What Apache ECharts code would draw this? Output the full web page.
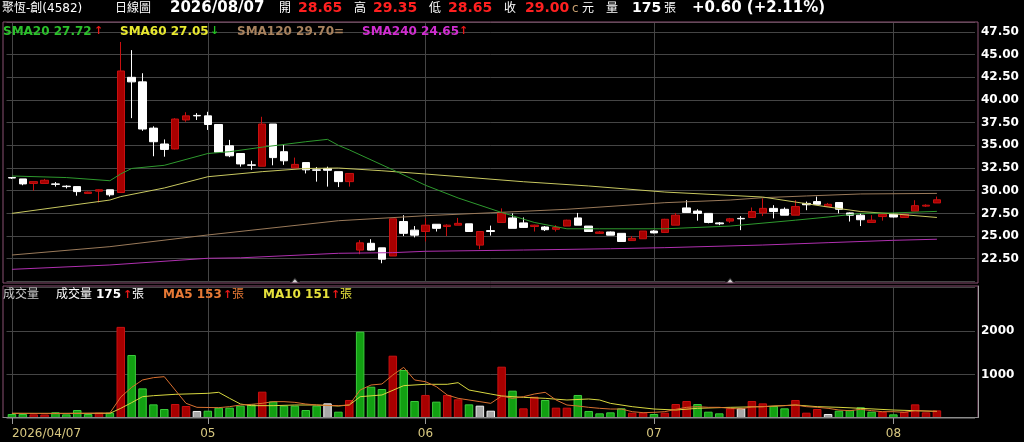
<!DOCTYPE html>
<html><head><meta charset="utf-8">
<script src="https://cdn.jsdelivr.net/npm/echarts@6/dist/echarts.min.js"></script>
<style>html,body{margin:0;padding:0;background:#000;}#c{width:1024px;height:442px;}</style>
</head><body><div id="c"></div>
<script>
// ---------- data ----------
const dates = [
'2026/04/07','2026/04/08','2026/04/09','2026/04/10','2026/04/13','2026/04/14','2026/04/15','2026/04/16','2026/04/17',
'2026/04/20','2026/04/21','2026/04/22','2026/04/23','2026/04/24','2026/04/27','2026/04/28','2026/04/29','2026/04/30',
'2026/05/04','2026/05/05','2026/05/06','2026/05/07','2026/05/08','2026/05/11','2026/05/12','2026/05/13','2026/05/14','2026/05/15',
'2026/05/18','2026/05/19','2026/05/20','2026/05/21','2026/05/22','2026/05/25','2026/05/26','2026/05/27','2026/05/28','2026/05/29',
'2026/06/01','2026/06/02','2026/06/03','2026/06/04','2026/06/05','2026/06/08','2026/06/09','2026/06/10','2026/06/11','2026/06/12',
'2026/06/15','2026/06/16','2026/06/17','2026/06/18','2026/06/22','2026/06/23','2026/06/24','2026/06/25','2026/06/26','2026/06/29','2026/06/30',
'2026/07/01','2026/07/02','2026/07/03','2026/07/06','2026/07/07','2026/07/08','2026/07/09','2026/07/10','2026/07/13','2026/07/14',
'2026/07/15','2026/07/16','2026/07/17','2026/07/20','2026/07/21','2026/07/22','2026/07/23','2026/07/24','2026/07/27','2026/07/28',
'2026/07/30','2026/07/31',
'2026/08/03','2026/08/04','2026/08/05','2026/08/06','2026/08/07'
];
// [open, close, low, high]
const ohlc = [
[31.45,31.4,31.3,31.5],[31.3,30.75,30.6,31.3],[30.8,31.0,30.0,31.0],[30.8,31.15,30.8,31.3],[30.75,30.7,30.45,30.95],
[30.5,30.45,30.25,30.6],[30.45,29.9,29.45,30.45],[29.7,29.85,29.7,29.9],[29.95,30.1,28.7,30.15],[30.1,29.55,29.35,30.1],
[29.8,43.2,29.8,46.4],[42.5,42.0,38.0,45.5],[42.0,36.8,36.6,42.95],[36.9,35.4,33.8,37.1],[35.15,34.55,33.75,35.65],
[34.6,37.9,34.55,38.0],[37.8,38.25,37.6,38.65],[38.3,38.25,37.8,38.55],[38.25,37.3,36.7,38.7],[37.3,34.25,34.2,37.3],
[34.95,33.85,33.7,35.6],[34.1,32.95,32.65,34.1],[32.85,32.8,32.3,33.3],[32.7,37.35,32.7,38.15],[37.35,33.65,32.8,37.35],
[34.3,33.3,32.85,35.05],[32.5,32.9,32.45,33.65],[33.1,32.3,31.9,33.1],[32.3,32.25,31.0,32.6],[32.45,32.25,30.45,32.65],
[32.1,31.0,30.4,32.1],[31.0,31.9,30.45,31.95],[23.45,24.25,23.0,24.55],[24.2,23.45,23.4,24.65],[23.7,22.45,22.0,23.7],
[22.8,26.9,22.8,26.9],[26.6,25.3,25.0,27.3],[25.65,25.1,24.85,26.1],[25.5,26.2,24.4,26.95],[26.3,25.85,25.5,26.3],
[26.05,26.2,25.0,26.3],[26.2,26.4,26.2,27.0],[26.35,25.5,25.5,26.35],[24.0,25.5,23.55,25.5],[25.6,25.5,25.05,26.15],
[26.5,27.55,26.45,28.05],[27.0,25.85,25.85,27.5],[26.45,25.95,25.9,27.05],[26.05,26.2,25.5,26.25],[26.0,25.7,25.55,26.1],
[25.75,25.95,25.5,26.2],[26.1,26.75,26.1,26.8],[27.0,26.2,26.2,27.55],[26.1,25.5,25.5,26.1],[25.3,25.45,25.25,25.55],
[25.45,25.1,25.1,25.5],[25.3,24.4,24.4,25.3],[24.5,24.75,24.5,25.0],[24.7,25.55,24.7,25.55],[25.55,25.35,25.3,25.65],
[25.4,26.85,25.35,26.9],[26.2,27.3,26.2,27.55],[28.1,27.6,27.6,28.95],[27.75,27.5,26.7,27.95],[27.5,26.5,26.4,27.5],
[26.45,26.35,26.2,26.55],[26.65,26.9,26.45,27.0],[26.95,26.9,25.65,27.2],[27.05,27.7,27.05,28.15],[27.55,28.05,27.2,29.15],
[28.05,27.7,26.95,28.4],[27.95,27.3,27.3,28.15],[27.3,28.25,27.3,28.95],[28.6,28.45,27.85,28.8],[28.8,28.5,28.45,29.35],
[28.25,28.5,28.2,28.65],[28.7,27.95,27.5,28.75],[27.55,27.3,26.6,27.6],[27.3,26.8,26.1,27.55],[26.5,26.75,26.5,27.3],
[27.15,27.4,26.7,27.45],[27.4,27.1,27.05,27.5],[27.05,27.4,27.0,27.45],[27.75,28.35,27.75,28.95],[28.3,28.4,28.2,28.5],
[28.65,29.0,28.65,29.35]
];
const prevClose = 31.6;
const volumes = [
92,92,84,80,130,84,183,92,122,122,
2090,1445,680,313,206,321,275,161,168,237,
237,283,313,604,382,283,283,183,283,336,
145,413,1980,718,665,1429,1101,390,528,375,
528,428,313,283,168,1177,627,222,489,413,
237,237,528,161,107,130,222,122,122,92,
122,321,390,321,145,107,222,222,390,336,
275,222,413,122,206,92,168,183,245,145,
145,84,145,313,130,175
];
// moving-average lines: [category index, value]
const sma20 = [[0,31.62],[5,31.45],[9,31.1],[10,31.85],[11,32.45],[14,32.8],[18,34.1],[20,34.3],[23,34.8],[27,35.4],[29,35.66],[30,35.0],[31,34.5],[35,32.3],[38,30.6],[41,29.2],[45,27.6],[48,26.5],[51,25.8],[54,25.8],[60,25.8],[66,26.1],[72,26.75],[75,27.1],[78,27.5],[81,27.55],[85,27.72]];
const sma60 = [[0,27.5],[9,28.97],[10,29.35],[14,30.3],[18,31.54],[23,32.1],[27,32.45],[30,32.5],[34,32.2],[38,31.84],[47,30.99],[53,30.52],[60,29.85],[69,29.3],[72,28.75],[75,28.2],[78,27.7],[81,27.45],[85,27.05]];
const sma120 = [[0,22.91],[9,23.83],[18,25.12],[30,26.69],[38,27.24],[45,27.62],[51,27.95],[60,28.68],[66,28.97],[69,29.23],[73,29.42],[78,29.64],[85,29.7]];
const sma240 = [[0,21.33],[9,21.81],[18,22.55],[21,22.6],[30,23.1],[35,23.17],[38,23.32],[47,23.46],[55,23.6],[60,23.72],[69,24.01],[75,24.27],[81,24.53],[85,24.65]];
const volMa5 = [[0,107],[4,100],[9,115],[10,480],[11,703],[12,872],[13,925],[14,948],[15,642],[16,336],[17,245],[19,237],[20,260],[21,298],[22,313],[23,336],[24,375],[25,375],[26,359],[27,321],[28,298],[30,283],[31,298],[32,642],[33,757],[34,780],[35,986],[36,1162],[37,872],[38,833],[39,719],[40,528],[41,451],[42,413],[43,375],[44,336],[45,505],[46,451],[47,489],[48,550],[49,589],[50,413],[51,298],[52,275],[53,245],[54,222],[55,206],[56,206],[57,145],[58,122],[59,130],[60,145],[61,199],[62,245],[63,260],[64,245],[65,245],[66,222],[67,206],[68,260],[69,260],[70,275],[71,283],[72,298],[73,260],[74,245],[75,222],[76,183],[77,168],[78,199],[79,168],[80,145],[81,145],[82,130],[83,168],[84,160],[85,153]];
const volMa10 = [[0,107],[9,107],[10,222],[11,352],[12,489],[13,512],[15,543],[18,566],[19,589],[20,451],[21,321],[22,283],[24,283],[26,298],[28,298],[30,275],[31,298],[32,489],[34,528],[36,742],[38,773],[40,773],[41,810],[42,642],[44,550],[45,505],[47,474],[49,451],[51,413],[53,436],[54,413],[55,336],[57,260],[59,206],[61,183],[63,222],[66,245],[69,260],[72,298],[74,260],[76,245],[78,222],[81,183],[83,168],[85,151]];
const markerIdx = [26, 66];
const priceTicks = [22.5,25,27.5,30,32.5,35,37.5,40,42.5,45,47.5];
const volTicks = [1000, 2000];

// ---------- build ----------
const FONT = '"DejaVu Sans", "Noto Sans CJK TC", sans-serif';
const cats = dates.concat(['', '', '']);
const monthStart = (i) => i < dates.length && (i === 0 || dates[i].slice(5,7) !== dates[i-1].slice(5,7));
const UP = '#a80000', UPB = '#c81010';
const volData = volumes.map((v, i) => {
  const pc = i === 0 ? prevClose : ohlc[i-1][1];
  const c = ohlc[i][1];
  let col = '#12a012', bcol = '#3ccc3c';
  if (c > pc) { col = UP; bcol = UPB; }
  else if (c === pc) { col = '#a8a8a8'; bcol = '#f0f0f0'; }
  return { value: v, itemStyle: { color: col, borderColor: bcol, borderWidth: 1 } };
});
const gridLine = { color: '#454545', width: 1 };

const texts = [];
function T(x, y, text, color, size, bold) {
  texts.push({ type: 'text', x: x, y: y, z: 100, silent: true,
    style: { text: text, fill: color, font: (bold ? 'bold ' : '') + size + 'px ' + FONT, verticalAlign: 'middle', align: 'left' } });
}
// header
T(2, 8.5, '聚恆-創(4582)', '#ffffff', 12, false);
T(115, 8.5, '日線圖', '#ffffff', 12, false);
T(170, 8.5, '2026/08/07', '#ffffff', 15, true);
T(279, 8.5, '開', '#ffffff', 12, false);
T(298, 8.5, '28.65', '#ff2020', 14, true);
T(354, 8.5, '高', '#ffffff', 12, false);
T(373, 8.5, '29.35', '#ff2020', 14, true);
T(429, 8.5, '低', '#ffffff', 12, false);
T(448, 8.5, '28.65', '#ff2020', 14, true);
T(504, 8.5, '收', '#ffffff', 12, false);
T(525, 8.5, '29.00', '#ff2020', 14, true);
T(572, 8.5, 'c', '#c8a070', 12, false);
T(582, 8.5, '元', '#ffffff', 12, false);
T(606, 8.5, '量', '#ffffff', 12, false);
T(632, 8.5, '175', '#ffffff', 14, true);
T(664, 8.5, '張', '#ffffff', 12, false);
T(692, 8.5, '+0.60 (+2.11%)', '#ffffff', 15, true);
// MA legend
T(3, 31.5, 'SMA20 27.72', '#2cc02c', 12, true);
T(94, 31.5, '↑', '#e81818', 11, true);
T(120, 31.5, 'SMA60 27.05', '#e8e830', 12, true);
T(210, 31.5, '↓', '#22c022', 11, true);
T(237, 31.5, 'SMA120 29.70', '#a8825e', 12, true);
T(334, 31.5, '=', '#a8825e', 12, true);
T(362, 31.5, 'SMA240 24.65', '#d02ed0', 12, true);
T(459, 31.5, '↑', '#e81818', 11, true);
// volume legend
T(3, 295, '成交量', '#c8c8c8', 12, false);
T(56, 295, '成交量', '#ffffff', 12, false);
T(96, 295, '175', '#ffffff', 12, true);
T(123, 295, '↑', '#e81818', 11, true);
T(132, 295, '張', '#ffffff', 12, false);
T(163, 295, 'MA5 153', '#e87a36', 12, true);
T(223, 295, '↑', '#e81818', 11, true);
T(232, 295, '張', '#e87a36', 12, false);
T(263, 295, 'MA10 151', '#e6e23c', 12, true);
T(331, 295, '↑', '#e81818', 11, true);
T(340, 295, '張', '#e6e23c', 12, false);

const chart = echarts.init(document.getElementById('c'), null, { renderer: 'canvas' });
const option = {
  backgroundColor: '#000000',
  animation: false,
  textStyle: { fontFamily: FONT },
  grid: [
    { left: 6.5, right: 49, top: 22, height: 259.4, show: false },
    { left: 6.5, right: 49, top: 287.2, height: 130.8, show: false },
    { left: 3, right: 46, top: 22, bottom: 159, show: true, borderColor: '#8a5072', borderWidth: 1, backgroundColor: 'transparent', z: 5 },
    { left: 3, right: 46, top: 286, bottom: 24.5, show: true, borderColor: '#8a5072', borderWidth: 1, backgroundColor: 'transparent', z: 5 }
  ],
  xAxis: [
    { type: 'category', gridIndex: 0, data: cats, boundaryGap: true,
      axisLine: { show: false }, axisTick: { show: false }, axisLabel: { show: false },
      splitLine: { show: true, interval: (i) => monthStart(i), alignWithLabel: true, lineStyle: gridLine } },
    { type: 'category', gridIndex: 1, data: cats, boundaryGap: true,
      axisLine: { show: false },
      axisTick: { show: true, interval: (i) => monthStart(i), alignWithLabel: true, length: 6, lineStyle: { color: '#9a9a9a' } },
      axisLabel: { show: true, interval: (i) => monthStart(i), color: '#d8c880', fontSize: 12, margin: 10, fontFamily: FONT,
        alignMinLabel: 'left',
        formatter: (v, i) => i === 0 ? v : v.slice(5, 7) },
      splitLine: { show: true, interval: (i) => monthStart(i), alignWithLabel: true, lineStyle: gridLine } },
    { type: 'value', gridIndex: 2, show: false, min: 0, max: 1 },
    { type: 'value', gridIndex: 3, min: 0, max: 1, position: 'bottom', z: 6,
      axisLine: { show: true, onZero: false, lineStyle: { color: '#8c8c8c' } },
      axisTick: { show: false }, axisLabel: { show: false }, splitLine: { show: false } }
  ],
  yAxis: [
    { type: 'value', gridIndex: 0, position: 'right', min: 20, max: 48.6, interval: 2.5, scale: false,
      axisLine: { show: false }, axisTick: { show: false },
      axisLabel: { color: '#ffffff', fontWeight: 'bold', fontSize: 12, margin: 6, fontFamily: FONT,
        formatter: (v) => priceTicks.some(t => Math.abs(t - v) < 1e-6) ? v.toFixed(2) : '' },
      splitLine: { show: true, lineStyle: gridLine } },
    { type: 'value', gridIndex: 1, position: 'right', min: 0, max: 3000, interval: 1000,
      axisLine: { show: false }, axisTick: { show: false },
      axisLabel: { color: '#ffffff', fontWeight: 'bold', fontSize: 12, margin: 6, fontFamily: FONT,
        formatter: (v) => volTicks.indexOf(v) >= 0 ? String(v) : '' },
      splitLine: { show: true, lineStyle: gridLine } },
    { type: 'value', gridIndex: 2, show: false, min: 0, max: 1 },
    { type: 'value', gridIndex: 3, min: 0, max: 1, position: 'right', z: 6,
      axisLine: { show: true, onZero: false, lineStyle: { color: '#a0a0a0' } },
      axisTick: { show: false }, axisLabel: { show: false }, splitLine: { show: false } }
  ],
  series: [
    { type: 'candlestick', xAxisIndex: 0, yAxisIndex: 0, data: ohlc, barWidth: 8, z: 2,
      itemStyle: { color: UP, color0: '#ffffff', borderColor: UPB, borderColor0: '#ffffff', borderWidth: 1 } },
    { type: 'line', xAxisIndex: 0, yAxisIndex: 0, data: sma240, symbol: 'none', z: 3, lineStyle: { color: '#b030b0', width: 1 } },
    { type: 'line', xAxisIndex: 0, yAxisIndex: 0, data: sma120, symbol: 'none', z: 3, lineStyle: { color: '#9a7a5a', width: 1 } },
    { type: 'line', xAxisIndex: 0, yAxisIndex: 0, data: sma60, symbol: 'none', z: 3, lineStyle: { color: '#c8c860', width: 1 } },
    { type: 'line', xAxisIndex: 0, yAxisIndex: 0, data: sma20, symbol: 'none', z: 3, lineStyle: { color: '#2e9a2e', width: 1 } },
    { type: 'scatter', xAxisIndex: 0, yAxisIndex: 0, data: markerIdx.map(i => [i, 20.1]), symbol: 'emptyTriangle', symbolSize: [10, 6], z: 4,
      itemStyle: { color: '#000', borderColor: '#8aa88a', borderWidth: 1 } },
    { type: 'bar', xAxisIndex: 1, yAxisIndex: 1, data: volData, barWidth: 8.5, z: 2 },
    { type: 'line', xAxisIndex: 1, yAxisIndex: 1, data: volMa10, symbol: 'none', z: 3, lineStyle: { color: '#d8d840', width: 1 } },
    { type: 'line', xAxisIndex: 1, yAxisIndex: 1, data: volMa5, symbol: 'none', z: 3, lineStyle: { color: '#d87030', width: 1 } }
  ],
  graphic: texts
};
chart.setOption(option);
</script>
</body></html>
